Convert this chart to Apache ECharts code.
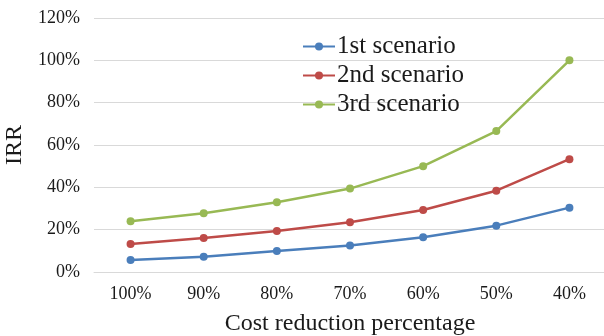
<!DOCTYPE html>
<html>
<head>
<meta charset="utf-8">
<script src="https://cdn.jsdelivr.net/npm/echarts@6/dist/echarts.min.js"></script>
<style>
  html, body { margin: 0; padding: 0; background: #fff; }
  #chart { width: 604px; height: 336px; }
</style>
</head>
<body>
<div id="chart"></div>
<script>
// values (IRR in %)
var categories = ["100%", "90%", "80%", "70%", "60%", "50%", "40%"];
var scenario1 = [5.7, 7.2, 9.9, 12.5, 16.4, 21.9, 30.4];
var scenario2 = [13.2, 16.1, 19.4, 23.5, 29.3, 38.4, 53.3];
var scenario3 = [24.0, 27.8, 33.0, 39.4, 50.0, 66.6, 100.0];
var seriesNames = ["1st scenario", "2nd scenario", "3rd scenario"];
var colors = ["#4a7ebb", "#be4b48", "#98b954"];

function makeSeries(name, values, color)
{
    return {
        name: name,
        type: 'line',
        data: values,
        symbol: 'circle',
        symbolSize: 8,
        lineStyle: { width: 2.5, color: color },
        itemStyle: { color: color }
    };
}

function draw()
{
    var myChart = echarts.init(document.getElementById('chart'));
    var font = '"Liberation Serif", "Times New Roman", serif';

    var option = {
        animation: false,
        textStyle: { fontFamily: font },
        grid: { left: 94, right: -2, top: 18, bottom: 64, containLabel: false, outerBoundsMode: 'none' },
        legend: {
            orient: 'vertical',
            left: 297,
            top: 29,
            itemGap: 4,
            itemWidth: 32,
            itemHeight: 10,
            data: seriesNames,
            textStyle: { fontFamily: font, fontSize: 25, color: '#1a1a1a', padding: [0, 0, 0, -3] }
        },
        xAxis: {
            type: 'category',
            data: categories,
            boundaryGap: true,
            name: 'Cost reduction percentage',
            nameLocation: 'middle',
            nameGap: 40,
            nameTextStyle: { fontFamily: font, fontSize: 24, color: '#1a1a1a' },
            axisLine: { lineStyle: { color: '#d9d9d9' } },
            axisTick: { show: false },
            axisLabel: { fontFamily: font, fontSize: 18, color: '#1a1a1a', margin: 13 }
        },
        yAxis: {
            type: 'value',
            min: 0,
            max: 120,
            interval: 20,
            name: 'IRR',
            nameLocation: 'middle',
            nameGap: 64,
            nameRotate: 90,
            nameTextStyle: { fontFamily: font, fontSize: 24, color: '#1a1a1a' },
            axisLine: { show: false },
            axisTick: { show: false },
            splitLine: { lineStyle: { color: '#d9d9d9' } },
            axisLabel: { fontFamily: font, fontSize: 18, color: '#1a1a1a', margin: 14, formatter: '{value}%' }
        },
        series: [
            makeSeries(seriesNames[0], scenario1, colors[0]),
            makeSeries(seriesNames[1], scenario2, colors[1]),
            makeSeries(seriesNames[2], scenario3, colors[2])
        ]
    };

    myChart.setOption(option);
}

draw()
</script>
</body>
</html>
